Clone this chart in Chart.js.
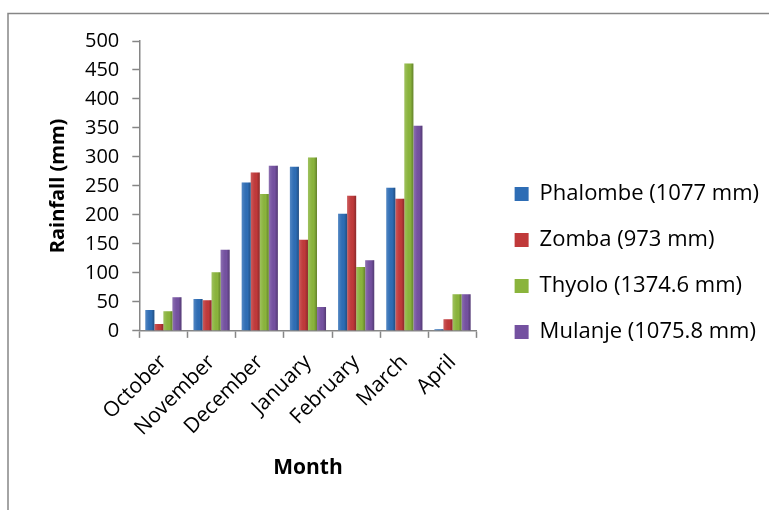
<!DOCTYPE html>
<html>
<head>
<meta charset="utf-8">
<script src="https://cdn.jsdelivr.net/npm/chart.js@4/dist/chart.umd.min.js"></script>
<style>
html,body{margin:0;padding:0;background:#fff;}
#wrap{position:absolute;left:0;top:0;width:769px;height:510px;}
</style>
</head>
<body>
<div id="wrap"><canvas id="c" width="769" height="510"></canvas></div>
<script>
const months = ["October","November","December","January","February","March","April"];
const phalombe = [36, 55, 256, 283, 202, 247, 3];
const zomba    = [12, 53, 273, 157, 233, 228, 20];
const thyolo   = [34, 101, 236, 299, 110, 461, 63];
const mulanje  = [58, 140, 285, 41, 122, 354, 63];
const seriesNames = ["Phalombe (1077 mm)","Zomba (973 mm)","Thyolo (1374.6 mm)","Mulanje (1075.8 mm)"];
const yTitle = "Rainfall (mm)";
const xTitle = "Month";

const FONT = "'Open Sans', 'Liberation Sans', sans-serif";
const AXIS = "#868686";
const LEGEND_ITEM_X = 516; // where legend markers should start

const framePlugin = {
  id: 'frame',
  beforeDraw(chart){
    const ctx = chart.ctx;
    ctx.save();
    ctx.fillStyle = '#fff';
    ctx.fillRect(0,0,chart.width,chart.height);
    ctx.strokeStyle = AXIS;
    ctx.lineWidth = 1.5;
    ctx.beginPath();
    ctx.moveTo(8, chart.height+2);
    ctx.lineTo(8, 13.5);
    ctx.lineTo(chart.width+2, 13.5);
    ctx.stroke();
    ctx.restore();
  }
};

// subtle bevel shading over each library-drawn bar
const bevelPlugin = {
  id: 'bevel',
  afterDatasetsDraw(chart){
    const ctx = chart.ctx;
    ctx.save();
    chart.data.datasets.forEach((d, di) => {
      chart.getDatasetMeta(di).data.forEach(el => {
        const {x, y, base, width} = el.getProps(['x','y','base','width'], true);
        const l = x - width/2, h = base - y;
        if (h <= 0) return;
        const g = ctx.createLinearGradient(l, 0, l + width, 0);
        g.addColorStop(0, 'rgba(255,255,255,0.18)');
        g.addColorStop(0.3, 'rgba(255,255,255,0.05)');
        g.addColorStop(0.65, 'rgba(0,0,0,0)');
        g.addColorStop(1, 'rgba(0,0,0,0.28)');
        ctx.fillStyle = g;
        ctx.fillRect(l, y, width, h);
      });
    });
    ctx.restore();
  }
};

function ds(label, data, color){
  return {label, data, backgroundColor: color, borderWidth: 0,
          categoryPercentage: 0.75, barPercentage: 1.0};
}

const chart = new Chart(document.getElementById('c'), {
  type: 'bar',
  data: {
    labels: months,
    datasets: [
      ds(seriesNames[0], phalombe, '#2e6db5'),
      ds(seriesNames[1], zomba,    '#c0393a'),
      ds(seriesNames[2], thyolo,   '#8ab43c'),
      ds(seriesNames[3], mulanje,  '#7451a0')
    ]
  },
  options: {
    responsive: false,
    animation: false,
    layout: {padding: {left: 42, right: 10, top: 41, bottom: 25}},
    plugins: {
      legend: {
        position: 'right',
        align: 'center',
        maxWidth: 400,
        labels: {
          font: {family: FONT, size: 22},
          color: '#000',
          boxWidth: 14,
          boxHeight: 14,
          padding: 24
        }
      },
      tooltip: {enabled: false}
    },
    scales: {
      x: {
        offset: true,
        grid: {offset: true, drawOnChartArea: false, color: AXIS, tickLength: 7, tickWidth: 1.5},
        border: {color: AXIS, width: 1.5},
        ticks: {font: {family: FONT, size: 21}, color: '#000', maxRotation: 45, minRotation: 45, padding: 12},
        title: {display: true, text: xTitle, font: {family: FONT, size: 21, weight: 'bold'}, color: '#000', padding: {top: 3, bottom: 4}}
      },
      y: {
        min: 0, max: 500,
        grid: {drawOnChartArea: false, color: AXIS, tickLength: 7, tickWidth: 1.5},
        border: {color: AXIS, width: 1.5},
        ticks: {stepSize: 50, font: {family: FONT, size: 20}, color: '#000', padding: 13},
        title: {display: true, text: yTitle, font: {family: FONT, size: 20, weight: 'bold'}, color: '#000', padding: {top: 4, bottom: 2}}
      },
      gap: {
        type: 'linear',
        position: 'right',
        display: true,
        grid: {display: false},
        border: {display: false},
        ticks: {display: false},
        afterFit(scale){ scale.width = 14; }
      }
    }
  },
  plugins: [framePlugin, bevelPlugin]
});

// shift the legend so its items start where the reference has them
const lg = chart.legend;
const itemStart = lg.left + chart.options.plugins.legend.labels.padding;
const shift = itemStart - LEGEND_ITEM_X;
chart.options.layout.padding.right = Math.max(0, chart.options.layout.padding.right + shift);
chart.update();
</script>
</body>
</html>
